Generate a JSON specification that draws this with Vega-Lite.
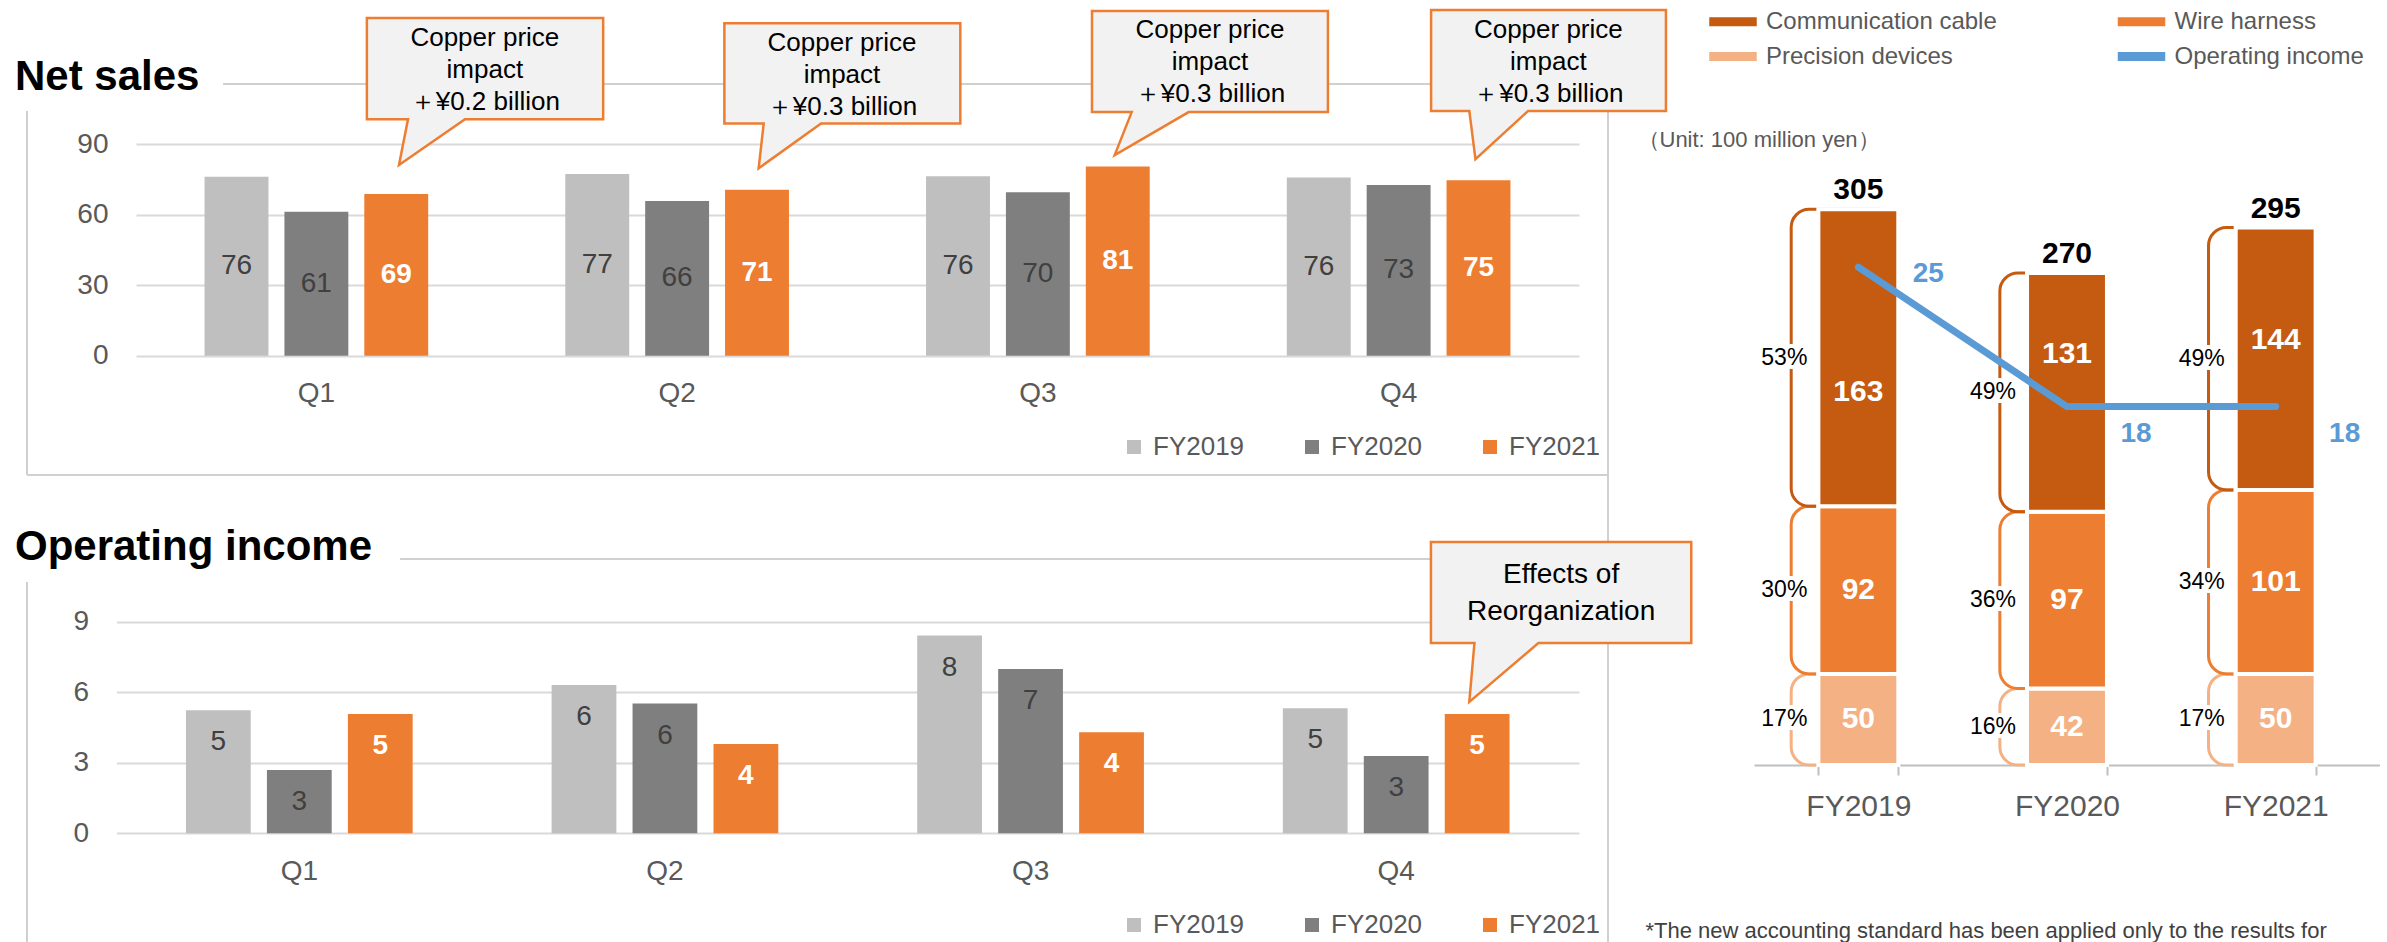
{
  "$schema": "https://vega.github.io/schema/vega-lite/v6.json",
  "background": "white",
  "padding": {"left": 14, "top": 4, "right": 0, "bottom": 0},
  "config": {"font": "Liberation Sans", "view": {"stroke": null}},
  "datasets": {
    "netSales": [
      {"q": "Q1", "fy": "FY2019", "v": 76.2}, {"q": "Q1", "fy": "FY2020", "v": 61.3}, {"q": "Q1", "fy": "FY2021", "v": 68.8},
      {"q": "Q2", "fy": "FY2019", "v": 77.4}, {"q": "Q2", "fy": "FY2020", "v": 65.9}, {"q": "Q2", "fy": "FY2021", "v": 70.6},
      {"q": "Q3", "fy": "FY2019", "v": 76.4}, {"q": "Q3", "fy": "FY2020", "v": 69.6}, {"q": "Q3", "fy": "FY2021", "v": 80.6},
      {"q": "Q4", "fy": "FY2019", "v": 75.9}, {"q": "Q4", "fy": "FY2020", "v": 72.7}, {"q": "Q4", "fy": "FY2021", "v": 74.7}
    ],
    "opIncome": [
      {"q": "Q1", "fy": "FY2019", "v": 5.23}, {"q": "Q1", "fy": "FY2020", "v": 2.69}, {"q": "Q1", "fy": "FY2021", "v": 5.07},
      {"q": "Q2", "fy": "FY2019", "v": 6.31}, {"q": "Q2", "fy": "FY2020", "v": 5.52}, {"q": "Q2", "fy": "FY2021", "v": 3.8},
      {"q": "Q3", "fy": "FY2019", "v": 8.41}, {"q": "Q3", "fy": "FY2020", "v": 6.99}, {"q": "Q3", "fy": "FY2021", "v": 4.3},
      {"q": "Q4", "fy": "FY2019", "v": 5.32}, {"q": "Q4", "fy": "FY2020", "v": 3.29}, {"q": "Q4", "fy": "FY2021", "v": 5.07}
    ],
    "calloutsNet": [
      {"c": 1, "i": 0, "q": 0.640, "v": 143.8}, {"c": 1, "i": 1, "q": 1.295, "v": 143.8}, {"c": 1, "i": 2, "q": 1.295, "v": 100.7},
      {"c": 1, "i": 3, "q": 0.912, "v": 100.7}, {"c": 1, "i": 4, "q": 0.729, "v": 81.2}, {"c": 1, "i": 5, "q": 0.754, "v": 100.7},
      {"c": 1, "i": 6, "q": 0.640, "v": 100.7},
      {"c": 2, "i": 0, "q": 1.631, "v": 141.5}, {"c": 2, "i": 1, "q": 2.285, "v": 141.5}, {"c": 2, "i": 2, "q": 2.285, "v": 98.9},
      {"c": 2, "i": 3, "q": 1.899, "v": 98.9}, {"c": 2, "i": 4, "q": 1.726, "v": 79.8}, {"c": 2, "i": 5, "q": 1.740, "v": 98.9},
      {"c": 2, "i": 6, "q": 1.631, "v": 98.9},
      {"c": 3, "i": 0, "q": 2.650, "v": 146.7}, {"c": 3, "i": 1, "q": 3.304, "v": 146.7}, {"c": 3, "i": 2, "q": 3.304, "v": 103.7},
      {"c": 3, "i": 3, "q": 2.918, "v": 103.7}, {"c": 3, "i": 4, "q": 2.713, "v": 85.4}, {"c": 3, "i": 5, "q": 2.760, "v": 103.7},
      {"c": 3, "i": 6, "q": 2.650, "v": 103.7},
      {"c": 4, "i": 0, "q": 3.590, "v": 147.2}, {"c": 4, "i": 1, "q": 4.241, "v": 147.2}, {"c": 4, "i": 2, "q": 4.241, "v": 104.2},
      {"c": 4, "i": 3, "q": 3.859, "v": 104.2}, {"c": 4, "i": 4, "q": 3.713, "v": 83.7}, {"c": 4, "i": 5, "q": 3.696, "v": 104.2},
      {"c": 4, "i": 6, "q": 3.590, "v": 104.2}
    ],
    "calloutTextNet": [
      {"c": 1, "q": 0.967, "v": 121.6, "t": "Copper price\nimpact\n＋¥0.2 billion"},
      {"c": 2, "q": 1.957, "v": 119.5, "t": "Copper price\nimpact\n＋¥0.3 billion"},
      {"c": 3, "q": 2.977, "v": 125.0, "t": "Copper price\nimpact\n＋¥0.3 billion"},
      {"c": 4, "q": 3.915, "v": 125.0, "t": "Copper price\nimpact\n＋¥0.3 billion"}
    ],
    "calloutsOp": [
      {"c": 5, "i": 0, "q": 3.595, "v": 12.39}, {"c": 5, "i": 1, "q": 4.307, "v": 12.39}, {"c": 5, "i": 2, "q": 4.307, "v": 8.094},
      {"c": 5, "i": 3, "q": 3.889, "v": 8.094}, {"c": 5, "i": 4, "q": 3.700, "v": 5.587}, {"c": 5, "i": 5, "q": 3.714, "v": 8.094},
      {"c": 5, "i": 6, "q": 3.595, "v": 8.094}
    ],
    "calloutTextOp": [
      {"c": 5, "q": 3.951, "v": 10.2, "t": "Effects of\nReorganization"}
    ],
    "segments": [
      {"year": "FY2019", "seg": "Precision devices", "ord": 1, "v": 50, "pct": "17%"},
      {"year": "FY2019", "seg": "Wire harness", "ord": 2, "v": 92, "pct": "30%"},
      {"year": "FY2019", "seg": "Communication cable", "ord": 3, "v": 163, "pct": "53%"},
      {"year": "FY2020", "seg": "Precision devices", "ord": 1, "v": 42, "pct": "16%"},
      {"year": "FY2020", "seg": "Wire harness", "ord": 2, "v": 97, "pct": "36%"},
      {"year": "FY2020", "seg": "Communication cable", "ord": 3, "v": 131, "pct": "49%"},
      {"year": "FY2021", "seg": "Precision devices", "ord": 1, "v": 50, "pct": "17%"},
      {"year": "FY2021", "seg": "Wire harness", "ord": 2, "v": 101, "pct": "34%"},
      {"year": "FY2021", "seg": "Communication cable", "ord": 3, "v": 144, "pct": "49%"}
    ],
    "segmentIncome": [
      {"year": "FY2019", "oi": 25},
      {"year": "FY2020", "oi": 18},
      {"year": "FY2021", "oi": 18}
    ]
  },
  "hconcat": [
    {
      "width": 1581,
      "height": 875,
      "layer": [
        {
          "data": {"values": [{}]},
          "layer": [
            {
              "mark": {"type": "rule", "stroke": "#d0d0d0", "strokeWidth": 2},
              "encoding": {
                "x": {"datum": 0, "type": "quantitative", "scale": {"domain": [0, 1], "nice": false, "zero": false}, "axis": null},
                "y": {"datum": 0.5531, "type": "quantitative", "scale": {"domain": [0, 1], "nice": false, "zero": false}, "axis": null},
                "y2": {"datum": 0.9691}
              }
            },
            {
              "mark": {"type": "rule", "stroke": "#d0d0d0", "strokeWidth": 2},
              "encoding": {
                "x": {"datum": 0, "type": "quantitative", "scale": {"domain": [0, 1], "nice": false, "zero": false}, "axis": null},
                "x2": {"datum": 1},
                "y": {"datum": 0.5531, "type": "quantitative", "scale": {"domain": [0, 1], "nice": false, "zero": false}, "axis": null}
              }
            },
            {
              "mark": {"type": "rule", "stroke": "#d0d0d0", "strokeWidth": 2},
              "encoding": {
                "x": {"datum": 0.124, "type": "quantitative", "scale": {"domain": [0, 1], "nice": false, "zero": false}, "axis": null},
                "x2": {"datum": 1},
                "y": {"datum": 1, "type": "quantitative", "scale": {"domain": [0, 1], "nice": false, "zero": false}, "axis": null}
              }
            },
            {
              "mark": {"type": "rule", "stroke": "#d0d0d0", "strokeWidth": 2},
              "encoding": {
                "x": {"datum": 1, "type": "quantitative", "scale": {"domain": [0, 1], "nice": false, "zero": false}, "axis": null},
                "y": {"datum": 0, "type": "quantitative", "scale": {"domain": [0, 1], "nice": false, "zero": false}, "axis": null},
                "y2": {"datum": 1}
              }
            },
            {
              "mark": {"type": "rule", "stroke": "#d0d0d0", "strokeWidth": 2},
              "encoding": {
                "x": {"datum": 0, "type": "quantitative", "scale": {"domain": [0, 1], "nice": false, "zero": false}, "axis": null},
                "y": {"datum": 0, "type": "quantitative", "scale": {"domain": [0, 1], "nice": false, "zero": false}, "axis": null},
                "y2": {"datum": 0.4309}
              }
            },
            {
              "mark": {"type": "rule", "stroke": "#d0d0d0", "strokeWidth": 2},
              "encoding": {
                "x": {"datum": 0.236, "type": "quantitative", "scale": {"domain": [0, 1], "nice": false, "zero": false}, "axis": null},
                "x2": {"datum": 1},
                "y": {"datum": 0.4571, "type": "quantitative", "scale": {"domain": [0, 1], "nice": false, "zero": false}, "axis": null}
              }
            },
            {
              "mark": {"type": "text", "align": "left", "baseline": "alphabetic", "fontSize": 42, "fontWeight": "bold", "color": "black"},
              "encoding": {
                "x": {"datum": -0.0076, "type": "quantitative", "scale": {"domain": [0, 1], "nice": false, "zero": false}, "axis": null},
                "y": {"datum": 0.9931, "type": "quantitative", "scale": {"domain": [0, 1], "nice": false, "zero": false}, "axis": null},
                "text": {"value": "Net sales"}
              }
            },
            {
              "mark": {"type": "text", "align": "left", "baseline": "alphabetic", "fontSize": 42, "fontWeight": "bold", "color": "black"},
              "encoding": {
                "x": {"datum": -0.0076, "type": "quantitative", "scale": {"domain": [0, 1], "nice": false, "zero": false}, "axis": null},
                "y": {"datum": 0.456, "type": "quantitative", "scale": {"domain": [0, 1], "nice": false, "zero": false}, "axis": null},
                "text": {"value": "Operating income"}
              }
            }
          ]
        },
        {
          "data": {"name": "netSales"},
          "encoding": {
            "x": {"field": "q", "type": "nominal", "scale": {"domain": ["Q1", "Q2", "Q3", "Q4"], "range": [109, 1552], "paddingInner": 0.38, "paddingOuter": 0.19},
                  "axis": {"orient": "bottom", "title": null, "labelAngle": 0, "labelFontSize": 28, "labelColor": "#595959", "labelPadding": 24, "domain": false, "ticks": false, "offset": -603.3}},
            "xOffset": {"field": "fy", "type": "nominal", "scale": {"domain": ["FY2019", "FY2020", "FY2021"], "paddingInner": 0.2}}
          },
          "layer": [
            {
              "mark": {"type": "bar"},
              "encoding": {
                "y": {"field": "v", "type": "quantitative", "scale": {"domain": [0, 90], "range": [271.7, 60.3], "nice": false, "zero": false},
                      "axis": {"orient": "left", "title": null, "values": [0, 30, 60, 90], "format": "d", "grid": true, "gridColor": "#d9d9d9", "gridWidth": 2, "domain": false, "ticks": false, "labelFontSize": 28, "labelColor": "#595959", "labelPadding": 28, "offset": -109}},
                "y2": {"datum": 0},
                "color": {"field": "fy", "type": "nominal", "scale": {"domain": ["FY2019", "FY2020", "FY2021"], "range": ["#BFBFBF", "#7F7F7F", "#ED7D31"]},
                          "legend": {"orient": "none", "legendX": 1094, "legendY": 350, "direction": "horizontal", "title": null, "symbolType": "square", "symbolSize": 196, "symbolStrokeWidth": 0, "labelFontSize": 26, "labelColor": "#595959", "labelOffset": 6, "columnPadding": 54}}
              }
            },
            {
              "transform": [{"filter": "datum.fy !== 'FY2021'"}, {"calculate": "datum.v / 2", "as": "mid"}],
              "mark": {"type": "text", "fontSize": 28, "color": "#404040", "baseline": "middle"},
              "encoding": {
                "y": {"field": "mid", "type": "quantitative", "scale": {"domain": [0, 90], "range": [271.7, 60.3], "nice": false, "zero": false}, "axis": {"title": null}},
                "text": {"field": "v", "type": "quantitative", "format": ".0f"}
              }
            },
            {
              "transform": [{"filter": "datum.fy === 'FY2021'"}, {"calculate": "datum.v / 2", "as": "mid"}],
              "mark": {"type": "text", "fontSize": 28, "fontWeight": "bold", "color": "white", "baseline": "middle"},
              "encoding": {
                "y": {"field": "mid", "type": "quantitative", "scale": {"domain": [0, 90], "range": [271.7, 60.3], "nice": false, "zero": false}, "axis": {"title": null}},
                "text": {"field": "v", "type": "quantitative", "format": ".0f"}
              }
            }
          ]
        },
        {
          "layer": [
            {
              "data": {"name": "calloutsNet"},
              "mark": {"type": "line", "interpolate": "linear-closed", "fill": "#F2F2F2", "stroke": "#ED7D31", "strokeWidth": 2.5},
              "encoding": {
                "x": {"field": "q", "type": "quantitative", "scale": {"domain": [0, 4], "range": [109, 1552], "nice": false, "zero": false}, "axis": null},
                "y": {"field": "v", "type": "quantitative", "scale": {"domain": [0, 90], "range": [271.7, 60.3], "nice": false, "zero": false}, "axis": null},
                "detail": {"field": "c", "type": "nominal"},
                "order": {"field": "i", "type": "quantitative"}
              }
            },
            {
              "data": {"name": "calloutTextNet"},
              "mark": {"type": "text", "fontSize": 26, "lineHeight": 32, "lineBreak": "\n", "align": "center", "baseline": "middle", "dy": -32, "color": "black"},
              "encoding": {
                "x": {"field": "q", "type": "quantitative", "scale": {"domain": [0, 4], "range": [109, 1552], "nice": false, "zero": false}, "axis": null},
                "y": {"field": "v", "type": "quantitative", "scale": {"domain": [0, 90], "range": [271.7, 60.3], "nice": false, "zero": false}, "axis": null},
                "text": {"field": "t", "type": "nominal"}
              }
            }
          ]
        },
        {
          "data": {"name": "opIncome"},
          "encoding": {
            "x": {"field": "q", "type": "nominal", "scale": {"domain": ["Q1", "Q2", "Q3", "Q4"], "range": [89.5, 1552], "paddingInner": 0.38, "paddingOuter": 0.19},
                  "axis": {"orient": "bottom", "title": null, "labelAngle": 0, "labelFontSize": 28, "labelColor": "#595959", "labelPadding": 24, "domain": false, "ticks": false, "offset": -125.7}},
            "xOffset": {"field": "fy", "type": "nominal", "scale": {"domain": ["FY2019", "FY2020", "FY2021"], "paddingInner": 0.2}}
          },
          "layer": [
            {
              "mark": {"type": "bar"},
              "encoding": {
                "y": {"field": "v", "type": "quantitative", "scale": {"domain": [0, 9], "range": [749.3, 537.7], "nice": false, "zero": false},
                      "axis": {"orient": "left", "title": null, "values": [0, 3, 6, 9], "format": "d", "grid": true, "gridColor": "#d9d9d9", "gridWidth": 2, "domain": false, "ticks": false, "labelFontSize": 28, "labelColor": "#595959", "labelPadding": 28, "offset": -89.5}},
                "y2": {"datum": 0},
                "color": {"field": "fy", "type": "nominal", "scale": {"domain": ["FY2019", "FY2020", "FY2021"], "range": ["#BFBFBF", "#7F7F7F", "#ED7D31"]},
                          "legend": {"orient": "none", "legendX": 1094, "legendY": 828, "direction": "horizontal", "title": null, "symbolType": "square", "symbolSize": 196, "symbolStrokeWidth": 0, "labelFontSize": 26, "labelColor": "#595959", "labelOffset": 6, "columnPadding": 54}}
              }
            },
            {
              "transform": [{"filter": "datum.fy !== 'FY2021'"}],
              "mark": {"type": "text", "fontSize": 28, "color": "#404040", "baseline": "middle", "dy": 32},
              "encoding": {
                "y": {"field": "v", "type": "quantitative", "scale": {"domain": [0, 9], "range": [749.3, 537.7], "nice": false, "zero": false}, "axis": {"title": null}},
                "text": {"field": "v", "type": "quantitative", "format": ".0f"}
              }
            },
            {
              "transform": [{"filter": "datum.fy === 'FY2021'"}],
              "mark": {"type": "text", "fontSize": 28, "fontWeight": "bold", "color": "white", "baseline": "middle", "dy": 32},
              "encoding": {
                "y": {"field": "v", "type": "quantitative", "scale": {"domain": [0, 9], "range": [749.3, 537.7], "nice": false, "zero": false}, "axis": {"title": null}},
                "text": {"field": "v", "type": "quantitative", "format": ".0f"}
              }
            }
          ]
        },
        {
          "layer": [
            {
              "data": {"name": "calloutsOp"},
              "mark": {"type": "line", "interpolate": "linear-closed", "fill": "#F2F2F2", "stroke": "#ED7D31", "strokeWidth": 2.5},
              "encoding": {
                "x": {"field": "q", "type": "quantitative", "scale": {"domain": [0, 4], "range": [89.5, 1552], "nice": false, "zero": false}, "axis": null},
                "y": {"field": "v", "type": "quantitative", "scale": {"domain": [0, 9], "range": [749.3, 537.7], "nice": false, "zero": false}, "axis": null},
                "detail": {"field": "c", "type": "nominal"},
                "order": {"field": "i", "type": "quantitative"}
              }
            },
            {
              "data": {"name": "calloutTextOp"},
              "mark": {"type": "text", "fontSize": 28, "lineHeight": 37, "lineBreak": "\n", "align": "center", "baseline": "middle", "dy": -18.5, "color": "black"},
              "encoding": {
                "x": {"field": "q", "type": "quantitative", "scale": {"domain": [0, 4], "range": [89.5, 1552], "nice": false, "zero": false}, "axis": null},
                "y": {"field": "v", "type": "quantitative", "scale": {"domain": [0, 9], "range": [749.3, 537.7], "nice": false, "zero": false}, "axis": null},
                "text": {"field": "t", "type": "nominal"}
              }
            }
          ]
        }
      ],
      "resolve": {
        "scale": {"x": "independent", "y": "independent", "xOffset": "independent", "color": "independent"},
        "axis": {"x": "independent", "y": "independent"},
        "legend": {"color": "independent"}
      }
    },
    {
      "width": 626,
      "height": 681,
      "encoding": {
        "x": {"field": "year", "type": "nominal", "scale": {"domain": ["FY2019", "FY2020", "FY2021"], "paddingInner": 0.617, "paddingOuter": 0.3085},
              "axis": {"title": "*The new accounting standard has been applied only to the results for", "titleX": -109, "titleY": 165, "titleAlign": "left", "titleAnchor": "start", "titleBaseline": "middle", "titleFontSize": 22, "titleFontWeight": "normal", "titleColor": "#404040",
                       "labelAngle": 0, "labelFontSize": 30, "labelColor": "#595959", "labelPadding": 16, "domainColor": "#bfbfbf", "domainWidth": 2, "tickColor": "#bfbfbf", "tickWidth": 2, "tickSize": 10, "tickBand": "extent", "grid": false}}
      },
      "layer": [
        {
          "data": {"name": "segments"},
          "transform": [
            {"stack": "v", "groupby": ["year"], "sort": [{"field": "ord", "order": "ascending"}], "as": ["v0", "v1"]},
            {"calculate": "(datum.v0 + datum.v1) / 2", "as": "mid"}
          ],
          "layer": [
            {
              "mark": {"type": "bar", "filled": false, "strokeWidth": 3, "cornerRadius": 18, "width": {"band": 1.33}, "xOffset": -14},
              "encoding": {
                "y": {"field": "v0", "type": "quantitative", "scale": {"domain": [0, 373.8], "nice": false},
                      "axis": {"title": "（Unit: 100 million yen）", "titleAngle": 0, "titleX": -117, "titleY": 55, "titleAlign": "left", "titleBaseline": "middle", "titleFontSize": 22, "titleFontWeight": "normal", "titleColor": "#595959", "labels": false, "ticks": false, "domain": false, "grid": false}},
                "y2": {"field": "v1"},
                "color": {"field": "seg", "type": "nominal",
                          "scale": {"domain": ["Communication cable", "Wire harness", "Precision devices", "Operating income"], "range": ["#C55A11", "#ED7D31", "#F4B183", "#5B9BD5"]},
                          "legend": {"orient": "none", "legendX": -33.5, "legendY": -75, "direction": "horizontal", "columns": 2, "columnPadding": 117.5, "rowPadding": 10, "title": null,
                                     "labelFontSize": 24, "labelColor": "#595959", "labelOffset": 20.5, "labelLimit": 500, "symbolSize": 529, "symbolType": "M-2,-0.32H2V0.32H-2Z",
                                     "encode": {"symbols": {"update": {
                                       "shape": {"signal": "datum.value === 'Operating income' ? 'M-2,0H2' : 'M-2,-0.32H2V0.32H-2Z'"},
                                       "fill": {"signal": "datum.value === 'Operating income' ? 'transparent' : datum.value === 'Communication cable' ? '#C55A11' : datum.value === 'Wire harness' ? '#ED7D31' : '#F4B183'"},
                                       "stroke": {"signal": "datum.value === 'Operating income' ? '#5B9BD5' : 'transparent'"},
                                       "strokeWidth": {"signal": "datum.value === 'Operating income' ? 7 : 0"},
                                       "strokeCap": {"value": "round"},
                                       "opacity": {"value": 1}
                                     }}}}}
              }
            },
            {
              "mark": {"type": "bar", "stroke": "white", "strokeWidth": 4},
              "encoding": {
                "y": {"field": "v0", "type": "quantitative", "scale": {"domain": [0, 373.8], "nice": false}},
                "y2": {"field": "v1"},
                "color": {"field": "seg", "type": "nominal"}
              }
            },
            {
              "mark": {"type": "text", "fontSize": 23, "dx": -74, "baseline": "middle", "fill": "white", "stroke": "white", "strokeWidth": 8, "strokeJoin": "round"},
              "encoding": {
                "y": {"field": "mid", "type": "quantitative", "scale": {"domain": [0, 373.8], "nice": false}},
                "text": {"field": "pct", "type": "nominal"}
              }
            },
            {
              "mark": {"type": "text", "fontSize": 23, "dx": -74, "baseline": "middle", "color": "black"},
              "encoding": {
                "y": {"field": "mid", "type": "quantitative", "scale": {"domain": [0, 373.8], "nice": false}},
                "text": {"field": "pct", "type": "nominal"}
              }
            },
            {
              "transform": [{"filter": "datum.ord !== 3"}],
              "mark": {"type": "text", "fontSize": 30, "fontWeight": "bold", "color": "white", "baseline": "middle"},
              "encoding": {
                "y": {"field": "mid", "type": "quantitative", "scale": {"domain": [0, 373.8], "nice": false}},
                "text": {"field": "v", "type": "quantitative"}
              }
            },
            {
              "transform": [{"filter": "datum.ord === 3 && datum.year === 'FY2019'"}],
              "mark": {"type": "text", "fontSize": 30, "fontWeight": "bold", "color": "white", "baseline": "middle", "dy": 34},
              "encoding": {
                "y": {"field": "mid", "type": "quantitative", "scale": {"domain": [0, 373.8], "nice": false}},
                "text": {"field": "v", "type": "quantitative"}
              }
            },
            {
              "transform": [{"filter": "datum.ord === 3 && datum.year === 'FY2020'"}],
              "mark": {"type": "text", "fontSize": 30, "fontWeight": "bold", "color": "white", "baseline": "middle", "dy": -38},
              "encoding": {
                "y": {"field": "mid", "type": "quantitative", "scale": {"domain": [0, 373.8], "nice": false}},
                "text": {"field": "v", "type": "quantitative"}
              }
            },
            {
              "transform": [{"filter": "datum.ord === 3 && datum.year === 'FY2021'"}],
              "mark": {"type": "text", "fontSize": 30, "fontWeight": "bold", "color": "white", "baseline": "middle", "dy": -19},
              "encoding": {
                "y": {"field": "mid", "type": "quantitative", "scale": {"domain": [0, 373.8], "nice": false}},
                "text": {"field": "v", "type": "quantitative"}
              }
            },
            {
              "transform": [{"filter": "datum.ord === 3"}],
              "mark": {"type": "text", "fontSize": 30, "fontWeight": "bold", "color": "black", "baseline": "middle", "dy": -19},
              "encoding": {
                "y": {"field": "v1", "type": "quantitative", "scale": {"domain": [0, 373.8], "nice": false}},
                "text": {"field": "v1", "type": "quantitative"}
              }
            }
          ]
        },
        {
          "data": {"name": "segmentIncome"},
          "layer": [
            {
              "mark": {"type": "line", "strokeWidth": 7, "strokeCap": "round", "strokeJoin": "round"},
              "encoding": {
                "y": {"field": "oi", "type": "quantitative", "scale": {"domain": [0, 34.2], "nice": false}, "axis": null},
                "color": {"datum": "Operating income", "type": "nominal"}
              }
            },
            {
              "transform": [{"filter": "datum.year === 'FY2019'"}],
              "mark": {"type": "text", "fontSize": 28, "fontWeight": "bold", "color": "#5B9BD5", "dx": 70, "dy": 7, "baseline": "middle"},
              "encoding": {
                "y": {"field": "oi", "type": "quantitative", "scale": {"domain": [0, 34.2], "nice": false}, "axis": null},
                "text": {"field": "oi", "type": "quantitative"}
              }
            },
            {
              "transform": [{"filter": "datum.year !== 'FY2019'"}],
              "mark": {"type": "text", "fontSize": 28, "fontWeight": "bold", "color": "#5B9BD5", "dx": 69, "dy": 27, "baseline": "middle"},
              "encoding": {
                "y": {"field": "oi", "type": "quantitative", "scale": {"domain": [0, 34.2], "nice": false}, "axis": null},
                "text": {"field": "oi", "type": "quantitative"}
              }
            }
          ]
        }
      ],
      "resolve": {"scale": {"y": "independent"}}
    }
  ],
  "spacing": 146,
  "bounds": "flush",
  "resolve": {"scale": {"color": "independent"}, "legend": {"color": "independent"}}
}
